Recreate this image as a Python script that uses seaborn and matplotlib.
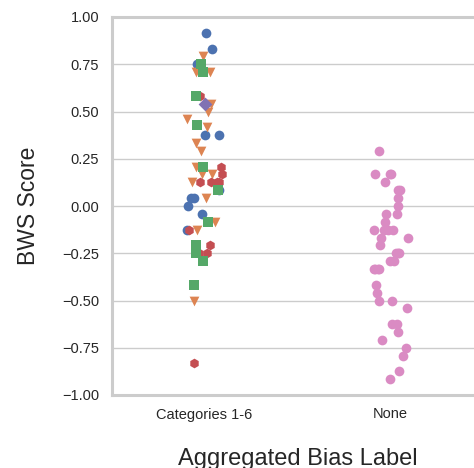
import numpy as np
import pandas as pd
import matplotlib
matplotlib.use("Agg")
import matplotlib.pyplot as plt
import seaborn as sns

# ---- data ----
order = ["Categories 1-6", "None"]

cat1_blue = [0.9167, 0.8333, 0.75, 0.375, 0.375, 0.0833, 0.0417, 0.0417, 0.0, -0.0417, -0.125]
cat2_orange = [0.7917, 0.7083, 0.7083, 0.5417, 0.5, 0.4583, 0.4167, 0.3333, 0.2917,
               0.2083, 0.1667, 0.1667, 0.125, 0.0417, -0.0833, -0.125, -0.5]
cat3_green = [0.75, 0.7083, 0.5833, 0.43, 0.2083, 0.0833, -0.0833, -0.2083, -0.25, -0.2917, -0.4167]
cat4_red = [0.5833, 0.2083, 0.1667, 0.125, 0.125, 0.125, 0.125, -0.125, -0.2083, -0.25, -0.25, -0.8333]
cat5_purple = [0.5417]
none_pink = [0.2917, 0.1667, 0.1667, 0.1667, 0.125, 0.0833, 0.0833, 0.0417, 0.0, -0.0417,
             -0.0417, -0.0833, -0.125, -0.125, -0.125, -0.125, -0.1667, -0.1667, -0.2083,
             -0.25, -0.25, -0.25, -0.2917, -0.2917, -0.3333, -0.3333, -0.3333, -0.3333,
             -0.4167, -0.4583, -0.5, -0.5, -0.5417, -0.625, -0.625, -0.6667, -0.7083,
             -0.75, -0.7917, -0.875, -0.9167]

groups = [
    ("Categories 1-6", cat1_blue, "#4C72B0", "o"),
    ("Categories 1-6", cat2_orange, "#DD8452", "v"),
    ("Categories 1-6", cat4_red, "#C44E52", "h"),
    ("Categories 1-6", cat3_green, "#55A868", "s"),
    ("Categories 1-6", cat5_purple, "#8172B3", "D"),
    ("None", none_pink, "#DA8BC3", "o"),
]

sns.set_theme(style="whitegrid")
plt.rcParams["font.family"] = ["Liberation Sans", "DejaVu Sans"]

W, H = 474, 468
fig = plt.figure(figsize=(W / 100, H / 100), dpi=100)
ax = fig.add_axes([111.5 / W, 1 - 395 / H, 372 / W, 378 / H])

np.random.seed(3)
for label, vals, color, marker in groups:
    df = pd.DataFrame({"Aggregated Bias Label": [label] * len(vals), "BWS Score": vals})
    sns.stripplot(data=df, x="Aggregated Bias Label", y="BWS Score", order=order,
                  color=color, marker=marker, size=7, linewidth=0, jitter=0.1, ax=ax)

ax.set_ylim(-1.0, 1.0)
ax.set_xlim(-0.5, 1.5)
ax.set_yticks(np.arange(-1.0, 1.01, 0.25))
ax.set_yticklabels([f"{v:.2f}".replace("-", "\u2212") for v in np.arange(-1.0, 1.01, 0.25)])
ax.grid(axis="y", color="#cccccc", linewidth=1.0)
ax.grid(axis="x", visible=False)
for side in ["left", "bottom", "top", "right"]:
    ax.spines[side].set_color("#cccccc")
    ax.spines[side].set_linewidth(2.2)
ax.tick_params(axis="y", labelsize=10.5, pad=9, length=0, colors="#262626")
ax.tick_params(axis="x", labelsize=10.5, pad=9, length=0, colors="#262626")
ax.set_ylabel("BWS Score", fontsize=16.5, labelpad=16, color="#262626")
ax.set_xlabel("Aggregated Bias Label", fontsize=17, labelpad=19, color="#262626")

fig.savefig("out.png", dpi=100)
